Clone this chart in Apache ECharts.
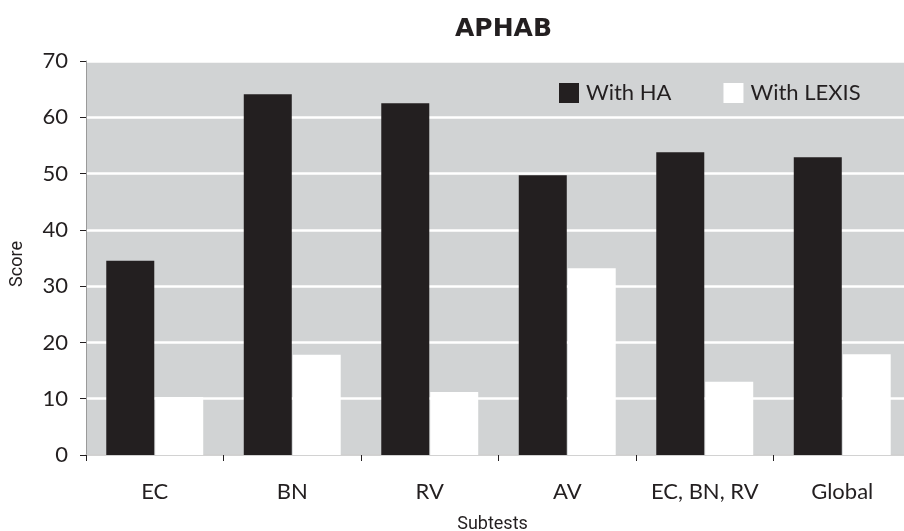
<!DOCTYPE html>
<html>
<head>
<meta charset="utf-8">
<script src="https://cdn.jsdelivr.net/npm/echarts@6/dist/echarts.min.js"></script>
<style>
  html, body { margin: 0; padding: 0; background: #fff; }
  #chart { width: 904px; height: 531px; }
</style>
</head>
<body>
<div id="chart"></div>
<script>
// Subtest categories on the x axis
const categories = ['EC', 'BN', 'RV', 'AV', 'EC, BN, RV', 'Global'];
// Mean APHAB scores per subtest
const withHA = [34.5, 64.1, 62.5, 49.7, 53.8, 52.9];
const withLexis = [10.3, 17.8, 11.2, 33.2, 13.0, 17.9];
// Score axis ticks
const yTicks = [0, 10, 20, 30, 40, 50, 60, 70];

const ink = '#231f20';
const labelFont = 'Lato, "Noto Sans", sans-serif';

const chart = echarts.init(document.getElementById('chart'), null, { renderer: 'canvas' });
chart.setOption({
  animation: false,
  backgroundColor: '#ffffff',
  title: {
    text: 'APHAB',
    left: 450,
    top: 12,
    textStyle: { fontFamily: '"DejaVu Sans", sans-serif', fontWeight: 'bold', fontSize: 25, color: ink }
  },
  legend: {
    left: 554,
    top: 77,
    itemWidth: 20,
    itemHeight: 20,
    itemGap: 52,
    icon: 'rect',
    textStyle: { fontFamily: labelFont, fontSize: 22, color: ink, padding: [0, 0, 0, 2] },
    data: ['With HA', 'With LEXIS']
  },
  grid: {
    left: 86,
    top: 61,
    width: 825,
    height: 394,
    show: true,
    backgroundColor: '#d1d3d4',
    borderWidth: 0,
    containLabel: false,
    outerBoundsMode: 'none'
  },
  xAxis: {
    type: 'category',
    data: categories,
    name: 'Subtests',
    nameLocation: 'middle',
    nameGap: 60,
    nameTextStyle: { fontFamily: 'Roboto, sans-serif', fontSize: 18, color: ink, padding: [0, 12, 0, 0] },
    axisLine: { lineStyle: { color: '#c4c4c4', width: 1.5 } },
    axisTick: { show: true, interval: 0, length: 6, lineStyle: { color: ink, width: 1 } },
    axisLabel: { interval: 0, margin: 26, fontFamily: labelFont, fontSize: 22, color: ink },
    splitLine: { show: false }
  },
  yAxis: {
    type: 'value',
    min: yTicks[0],
    max: yTicks[yTicks.length - 1],
    interval: 10,
    name: 'Score',
    nameLocation: 'middle',
    nameGap: 60,
    nameTextStyle: { fontFamily: 'Roboto, sans-serif', fontSize: 18, color: ink, padding: [0, 12, 0, 0] },
    axisLine: { show: true, lineStyle: { color: '#9a9a9a', width: 1 } },
    axisTick: { show: true, length: 6, lineStyle: { color: ink, width: 1 } },
    axisLabel: { margin: 18, fontFamily: labelFont, fontSize: 22, color: ink },
    splitLine: { show: true, lineStyle: { color: '#ffffff', width: 2.5 } }
  },
  series: [
    {
      name: 'With HA',
      type: 'bar',
      data: withHA,
      barWidth: 48,
      barGap: '2%',
      itemStyle: { color: ink }
    },
    {
      name: 'With LEXIS',
      type: 'bar',
      data: withLexis,
      barWidth: 48,
      itemStyle: { color: '#ffffff' }
    }
  ]
});
</script>
</body>
</html>
